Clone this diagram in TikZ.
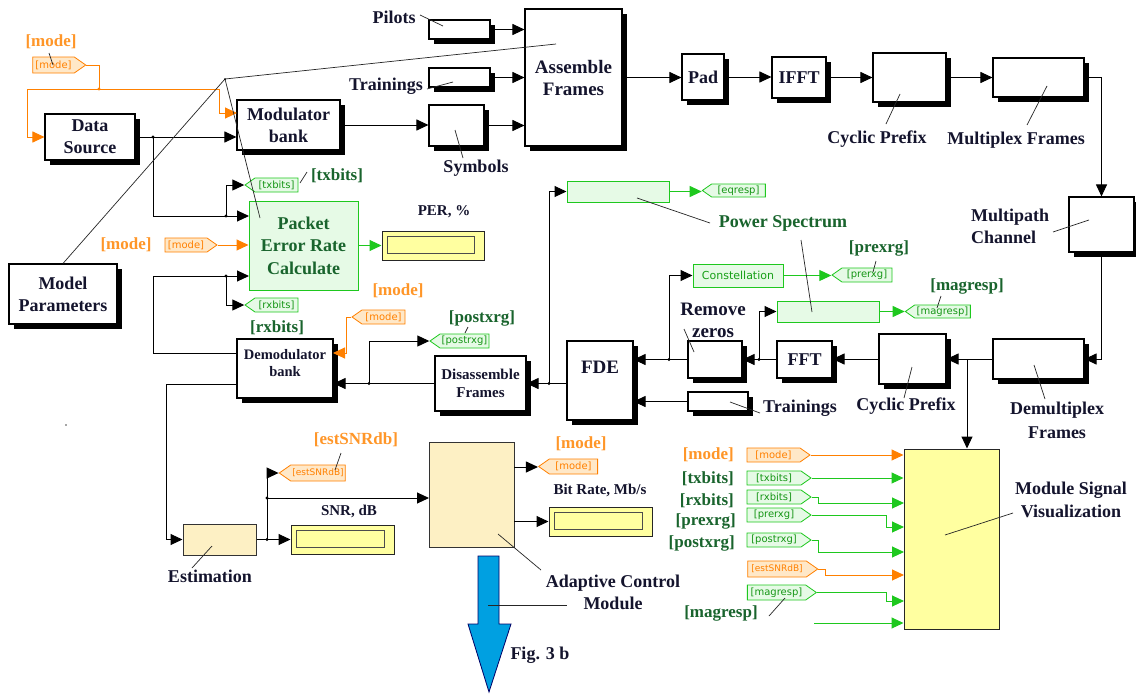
\documentclass[tikz,border=0pt]{standalone}
\usepackage{fontspec}
\setmainfont{Liberation Serif}
\newfontfamily\tagfont{DejaVu Sans}
\usetikzlibrary{arrows.meta,shapes.symbols}
\definecolor{orl}{RGB}{255,128,0}
\definecolor{ort}{RGB}{255,150,40}
\definecolor{orf}{RGB}{255,232,200}
\definecolor{grl}{RGB}{30,200,30}
\definecolor{grf}{RGB}{230,250,230}
\definecolor{grt}{RGB}{25,100,45}
\definecolor{tanf}{RGB}{253,240,196}
\definecolor{yel}{RGB}{255,255,160}
\definecolor{blu}{RGB}{0,160,225}
\definecolor{ink}{RGB}{20,20,45}
\newcommand\fsz[2]{\fontsize{#1}{#2}\selectfont}
\newcommand\bx[7]{\node[#1,minimum width={(#5-#3)*1pt},minimum height={(#6-#4)*1pt}] (#2) at ({(#3+#5)/2},{(#4+#6)/2}) {#7};}
\tikzset{
  sbox/.style={draw=black,line width=1.1pt,fill=white,text=ink,inner sep=1pt,align=center,font=\bfseries\fsz{18}{22},preaction={fill=black,transform canvas={xshift=5pt,yshift=-5pt}}},
  gbox/.style={draw=grl,line width=1pt,fill=grf,text=grt,inner sep=1pt,align=center,font=\bfseries\fsz{18}{22.5}},
  tbox/.style={draw=black!80,line width=1pt,fill=tanf},
  disp/.style={draw=black!85,line width=1pt,fill=yel},
  dispin/.style={draw=black!70,line width=1.5pt},
  tagL/.style={shape=signal,signal to=west,signal pointer angle=70,inner sep=0pt,line width=0.8pt,font=\tagfont\fsz{10}{11}},
  tagR/.style={shape=signal,signal to=east,signal pointer angle=70,inner sep=0pt,line width=0.8pt,font=\tagfont\fsz{10}{11}},
  gtag/.style={draw=grl,fill=grf,text=grl!75!black},
  otag/.style={draw=orl,fill=orf,text=orl},
  lab/.style={font=\bfseries\fsz{18}{22},align=center,inner sep=0pt,text=ink},
  glab/.style={lab,font=\bfseries\fsz{17}{20},text=grt},
  olab/.style={lab,font=\bfseries\fsz{17}{20},text=ort},
  slab/.style={font=\bfseries\fsz{15}{18},inner sep=0pt,text=ink},
  lead/.style={line width=0.7pt,draw=black!85},
  ln/.style={line width=1pt},
  arr/.style={line width=1pt,-{Triangle[length=12pt,width=11pt]}},
  oarr/.style={arr,draw=orl},
  garr/.style={arr,draw=grl},
  oln/.style={ln,draw=orl},
}
\begin{document}
\begin{tikzpicture}[x=1pt,y=-1pt]
\useasboundingbox (0,0) rectangle (1136,694);
\fill[white] (0,0) rectangle (1136,694);

% ---------- shadowed blocks
\bx{sbox}{ds}{45}{114}{135}{160}{Data\\Source}
\bx{sbox}{mod}{237}{100}{340}{150}{Modulator\\bank}
\bx{sbox}{mp}{9}{264}{117}{324}{Model\\Parameters}
\bx{sbox}{pil}{429}{20}{490}{39}{}
\bx{sbox}{trt}{429}{68}{490}{87}{}
\bx{sbox}{sym}{429}{105}{484}{146}{}
\bx{sbox,font=\bfseries\fsz{19}{22}}{asm}{525}{9}{622}{146}{Assemble\\Frames}
\bx{sbox}{pad}{682}{54}{724}{100}{Pad}
\bx{sbox}{ifft}{772}{57}{826}{98}{IFFT}
\bx{sbox}{cpt}{873}{53}{946}{102}{}
\bx{sbox}{mux}{993}{58}{1084}{97}{}
\bx{sbox}{mpc}{1069}{197}{1134}{252}{}
\bx{sbox}{dmx}{993}{339}{1084}{379}{}
\bx{sbox}{cpr}{879}{334}{946}{384}{}
\bx{sbox}{fft}{777}{341}{832}{378}{FFT}
\bx{sbox}{rz}{688}{341}{742}{378}{}
\bx{sbox}{trr}{688}{392}{748}{411}{}
\bx{sbox}{fde}{567}{341}{633}{420}{}
\bx{sbox,font=\bfseries\fsz{15}{18}}{dis}{435}{356}{526}{411}{Disassemble\\Frames}
\bx{sbox}{dem}{237}{339}{333}{398}{}
\node[lab,font=\bfseries\fsz{19}{22}] (lfde) at (600,367) {FDE};
\node[lab,font=\bfseries\fsz{14.5}{17}] (ldem) at (285,363) {Demodulator\\bank};

% ---------- green, tan, display blocks
\bx{gbox}{per}{249}{201}{358}{290}{Packet\\Error Rate\\Calculate}
\bx{gbox}{eqs}{567}{181}{669}{202}{}
\bx{gbox,font=\tagfont\fsz{11}{13},text=grl!80!black}{con}{693}{264}{783}{287}{Constellation}
\bx{gbox}{mgs}{777}{301}{879}{322}{}
\bx{tbox}{est}{183}{524}{256}{555}{}
\bx{tbox}{acm}{429}{442}{514}{547}{}
\bx{disp}{perd}{382}{231}{484}{260}{}
\bx{disp}{snrd}{291}{525}{394}{554}{}
\bx{disp}{brd}{549}{507}{652}{536}{}
\foreach \d in {perd,snrd,brd}
  \draw[dispin] ([shift={(6,6)}]\d.north west) rectangle ([shift={(-10,-7)}]\d.south east);
\bx{disp}{msv}{904}{449}{999}{629}{}

% ---------- goto tags (pointing left)
\bx{tagL,gtag}{ttx1}{250}{178}{303}{192}{[txbits]}
\bx{tagL,gtag}{trx1}{250}{298}{303}{312}{[rxbits]}
\bx{tagL,otag}{tmd1}{357}{310}{410}{324}{[mode]}
\bx{tagL,gtag}{tpost}{435}{334}{494}{348}{[postrxg]}
\bx{tagL,gtag}{teq}{707}{184}{770}{197}{[eqresp]}
\bx{tagL,gtag}{tpre}{837}{268}{897}{282}{[prerxg]}
\bx{tagL,gtag}{tmag}{910}{305}{975}{318}{[magresp]}
\bx{tagL,otag,font=\tagfont\fsz{9}{11}}{test}{285}{465}{351}{481}{[estSNRdB]}
\bx{tagL,otag}{tmd2}{544}{459}{603}{474}{[mode]}
% ---------- from tags (pointing right)
\bx{tagR,otag}{fmd0}{27}{57}{80}{73}{[mode]}
\bx{tagR,otag}{fmd1}{160}{238}{212}{252}{[mode]}
\bx{tagR,otag}{fmd2}{742}{448}{805}{462}{[mode]}
\bx{tagR,gtag}{ftx}{742}{471}{806}{485}{[txbits]}
\bx{tagR,gtag}{frx}{742}{490}{806}{504}{[rxbits]}
\bx{tagR,gtag}{fpre}{742}{508}{806}{522}{[prerxg]}
\bx{tagR,gtag}{fpost}{742}{533}{806}{547}{[postrxg]}
\bx{tagR,otag,font=\tagfont\fsz{9}{11}}{fest}{742}{561}{812}{577}{[estSNRdB]}
\bx{tagR,gtag}{fmag}{742}{585}{811}{600}{[magresp]}

% ---------- coordinates
\coordinate (j0) at (99,89);
\coordinate (c0a) at (27,89);
\coordinate (c0b) at (219,89);
\coordinate (modin) at (237,113);
\coordinate (j1) at (153,137);
\coordinate (j2) at (226,216);
\coordinate (perin1) at (249,216);
\coordinate (demo1) at (237,353);
\coordinate (c2) at (153,353);
\coordinate (perin3) at (249,276);
\coordinate (j8) at (226,276);
\coordinate (demin1) at (333,353);
\coordinate (j7) at (369,383.5);
\coordinate (j6) at (549,383.5);
\coordinate (j5) at (669,359.5);
\coordinate (j4) at (759,359.5);
\coordinate (j3) at (967,359);
\coordinate (demo2) at (237,384);
\coordinate (c3) at (166,384);
\coordinate (j9) at (267,539.5);
\coordinate (j10) at (267,498);
\coordinate (acmin) at (429,498);
\coordinate (acmo1) at (514,467);
\coordinate (acmo2) at (514,521.5);
\coordinate (msvin3) at (904,503);
\coordinate (cpre) at (886,515);
\coordinate (msvin4) at (904,527);
\coordinate (msvin5) at (904,552);
\coordinate (msvin6) at (904,575);
\coordinate (cmag) at (886,592.5);
\coordinate (msvin7) at (904,601);
\coordinate (free) at (814,623);

% ---------- orange mode distribution
\draw[oln] (fmd0.east) -| (j0);
\draw[oarr] (j0) -- (c0a) |- (ds.west);
\draw[oarr] (j0) -- (c0b) |- (modin);
\fill[orl] (j0) circle (1.6);

% ---------- transmitter
\draw[arr] (ds.east) -- (ds.east -| mod.west);
\draw[arr] (j1) |- (perin1);
\draw[arr] (j2) |- (ttx1.west);
\draw[arr] (mod.east) -- (mod.east -| sym.west);
\draw[arr] (sym.east) -- (sym.east -| asm.west);
\draw[arr] (pil.east) -- (pil.east -| asm.west);
\draw[arr] (trt.east) -- (trt.east -| asm.west);
\draw[arr] (asm.east) -- (asm.east -| pad.west);
\draw[arr] (pad.east) -- (pad.east -| ifft.west);
\draw[arr] (ifft.east) -- (ifft.east -| cpt.west);
\draw[arr] (cpt.east) -- (cpt.east -| mux.west);
\draw[arr] (mux.east) -| (mpc.north);
\draw[arr] (mpc.south) |- (dmx.east);

% ---------- receiver
\draw[arr] (dmx.west) -- (dmx.west -| cpr.east);
\draw[arr] (j3) -- (j3 |- msv.north);
\draw[arr] (cpr.west) -- (cpr.west -| fft.east);
\draw[arr] (fft.west) -- (fft.west -| rz.east);
\draw[arr] (j4) |- (mgs.west);
\draw[garr] (mgs.east) -- (mgs.east -| tmag.west);
\draw[arr] (rz.west) -- (rz.west -| fde.east);
\draw[arr] (j5) |- (con.west);
\draw[garr] (con.east) -- (con.east -| tpre.west);
\draw[arr] (trr.west) -- (trr.west -| fde.east);
\draw[arr] (fde.west |- dis.east) -- (dis.east);
\draw[arr] (j6) |- (eqs.west);
\draw[garr] (eqs.east) -- (eqs.east -| teq.west);
\draw[arr] (dis.west) -- (dis.west -| dem.east);
\draw[arr] (j7) |- (tpost.west);
\draw[oarr] (tmd1.west) -- ++(-5,0) |- (demin1);
\draw[arr] (demo1) -- (c2) |- (perin3);
\draw[arr] (j8) |- (trx1.west);
\draw[oarr] (fmd1.east) -- (fmd1.east -| per.west);
\draw[garr] (per.east) -- (per.east -| perd.west);

% ---------- estimation / adaptive control
\draw[arr] (demo2) -- (c3) |- (est.west);
\draw[arr] (est.east) -- (est.east -| snrd.west);
\draw[arr] (j9) |- (test.west);
\draw[arr] (j10) -- (acmin);
\draw[arr] (acmo1) -- (acmo1 -| tmd2.west);
\draw[arr] (acmo2) -- (acmo2 -| brd.west);

% ---------- visualization inputs
\draw[oarr] (fmd2.east) -- (fmd2.east -| msv.west);
\draw[garr] (ftx.east) -- (ftx.east -| msv.west);
\draw[garr] (frx.east) -- ++(7,0) |- (msvin3);
\draw[garr] (fpre.east) -- (cpre) |- (msvin4);
\draw[garr] (fpost.east) -- ++(7,0) |- (msvin5);
\draw[oarr] (fest.east) -- ++(7,0) |- (msvin6);
\draw[garr] (fmag.east) -- (cmag) |- (msvin7);
\draw[garr] (free) -- (free -| msv.west);

% ---------- junction dots
\foreach \p in {j1,j2,j4,j5,j6,j7,j8,j9,j10} \fill (\p) circle (1.6);

% ---------- blue arrow
\draw[fill=blu,draw=black!60!blue,line width=0.8pt] (478,556) -- (499,556) -- (499,624) -- (511,624) -- (489,692) -- (468,624) -- (478,624) -- cycle;
\coordinate (bluept) at (488,605);
\fill[black!70] (66,425) circle (0.8);

% ---------- labels
\node[olab] (lmd0) at (51,42) {[mode]};
\node[lab] (lpil) at (394,17) {Pilots};
\node[lab] (ltrt) at (386,86) {Trainings};
\node[lab] (lsym) at (476,168) {Symbols};
\node[lab] (lcpt) at (877,139) {Cyclic Prefix};
\node[lab] (lmux) at (1016,140) {Multiplex Frames};
\node[lab,align=left,anchor=west] (lmpc) at (971,226) {Multipath\\Channel};
\node[glab] (ltx) at (337,176) {[txbits]};
\node[slab] (lper) at (444,212) {PER, \%};
\node[olab] (lmd1) at (126,245) {[mode]};
\node[olab] (lmd2) at (398,291) {[mode]};
\node[glab] (lrx) at (277,328) {[rxbits]};
\node[glab] (lpost) at (482,318) {[postxrg]};
\node[glab,font=\bfseries\fsz{18}{22}] (lps) at (783,223) {Power Spectrum};
\node[glab] (lpre) at (879,248) {[prexrg]};
\node[glab] (lmag) at (967,286) {[magresp]};
\node[lab,font=\bfseries\fsz{19}{22}] (lrz) at (713,320) {Remove\\zeros};
\node[lab] (ltrr) at (800,408) {Trainings};
\node[lab] (lcpr) at (906,406) {Cyclic Prefix};
\node[lab,font=\bfseries\fsz{18}{24}] (ldmx) at (1057,420) {Demultiplex\\Frames};
\node[olab] (lest) at (356,440) {[estSNRdb]};
\node[slab] (lsnr) at (349,511) {SNR, dB};
\node[lab] (lestim) at (210,576) {Estimation};
\node[olab] (lmd3) at (581,444) {[mode]};
\node[slab] (lbr) at (600,490) {Bit Rate, Mb/s};
\node[lab] (lacm) at (613,592) {Adaptive Control\\Module};
\node[lab] (lfig) at (540,655) {Fig. 3 b};
\node[lab,font=\bfseries\fsz{18}{23}] (lmsv) at (1071,500) {Module Signal\\Visualization};
\node[olab,anchor=east] (lv1) at (734,455) {[mode]};
\node[glab,anchor=east] (lv2) at (734,479) {[txbits]};
\node[glab,anchor=east] (lv3) at (734,501) {[rxbits]};
\node[glab,anchor=east] (lv4) at (736,521) {[prexrg]};
\node[glab,anchor=east] (lv5) at (735,543) {[postxrg]};
\node[glab] (lv6) at (721,613) {[magresp]};

% ---------- model parameter lines and leaders
\coordinate (v) at (225,79);
\coordinate (asmpt) at (556,44);
\coordinate (perpt) at (260,218);
\draw[lead] (mp.north) -- (v) -- (asmpt);
\draw[lead] (v) -- (perpt);
\fill (v) circle (1);
\draw[lead] (bluept) -- (567,605);
\draw[lead] (49,53) -- (53,65);
\draw[lead] (420,15) -- (443,26);
\draw[lead] (427,89) -- (453,82);
\draw[lead] (455,130) -- (463,158);
\draw[lead] (900,94) -- (886,124);
\draw[lead] (1047,86) -- (1027,125);
\draw[lead] (1053,232) -- (1089,220);
\draw[lead] (1034,365) -- (1045,399);
\draw[lead] (912,367) -- (904,398);
\draw[lead] (730,402) -- (760,413);
\draw[lead] (684,329) -- (694,352);
\draw[lead] (637,198) -- (710,223);
\draw[lead] (801,240) -- (812,312);
\draw[lead] (876,261) -- (873,272);
\draw[lead] (941,296) -- (937,308);
\draw[lead] (300,183) -- (307,172);
\draw[lead] (465,333) -- (468,327);
\draw[lead] (341,453) -- (335,470);
\draw[lead] (212,546) -- (192,568);
\draw[lead] (498,534) -- (541,570);
\draw[lead] (945,535) -- (1013,513);
\draw[lead] (769,616) -- (785,598);
\end{tikzpicture}
\end{document}
